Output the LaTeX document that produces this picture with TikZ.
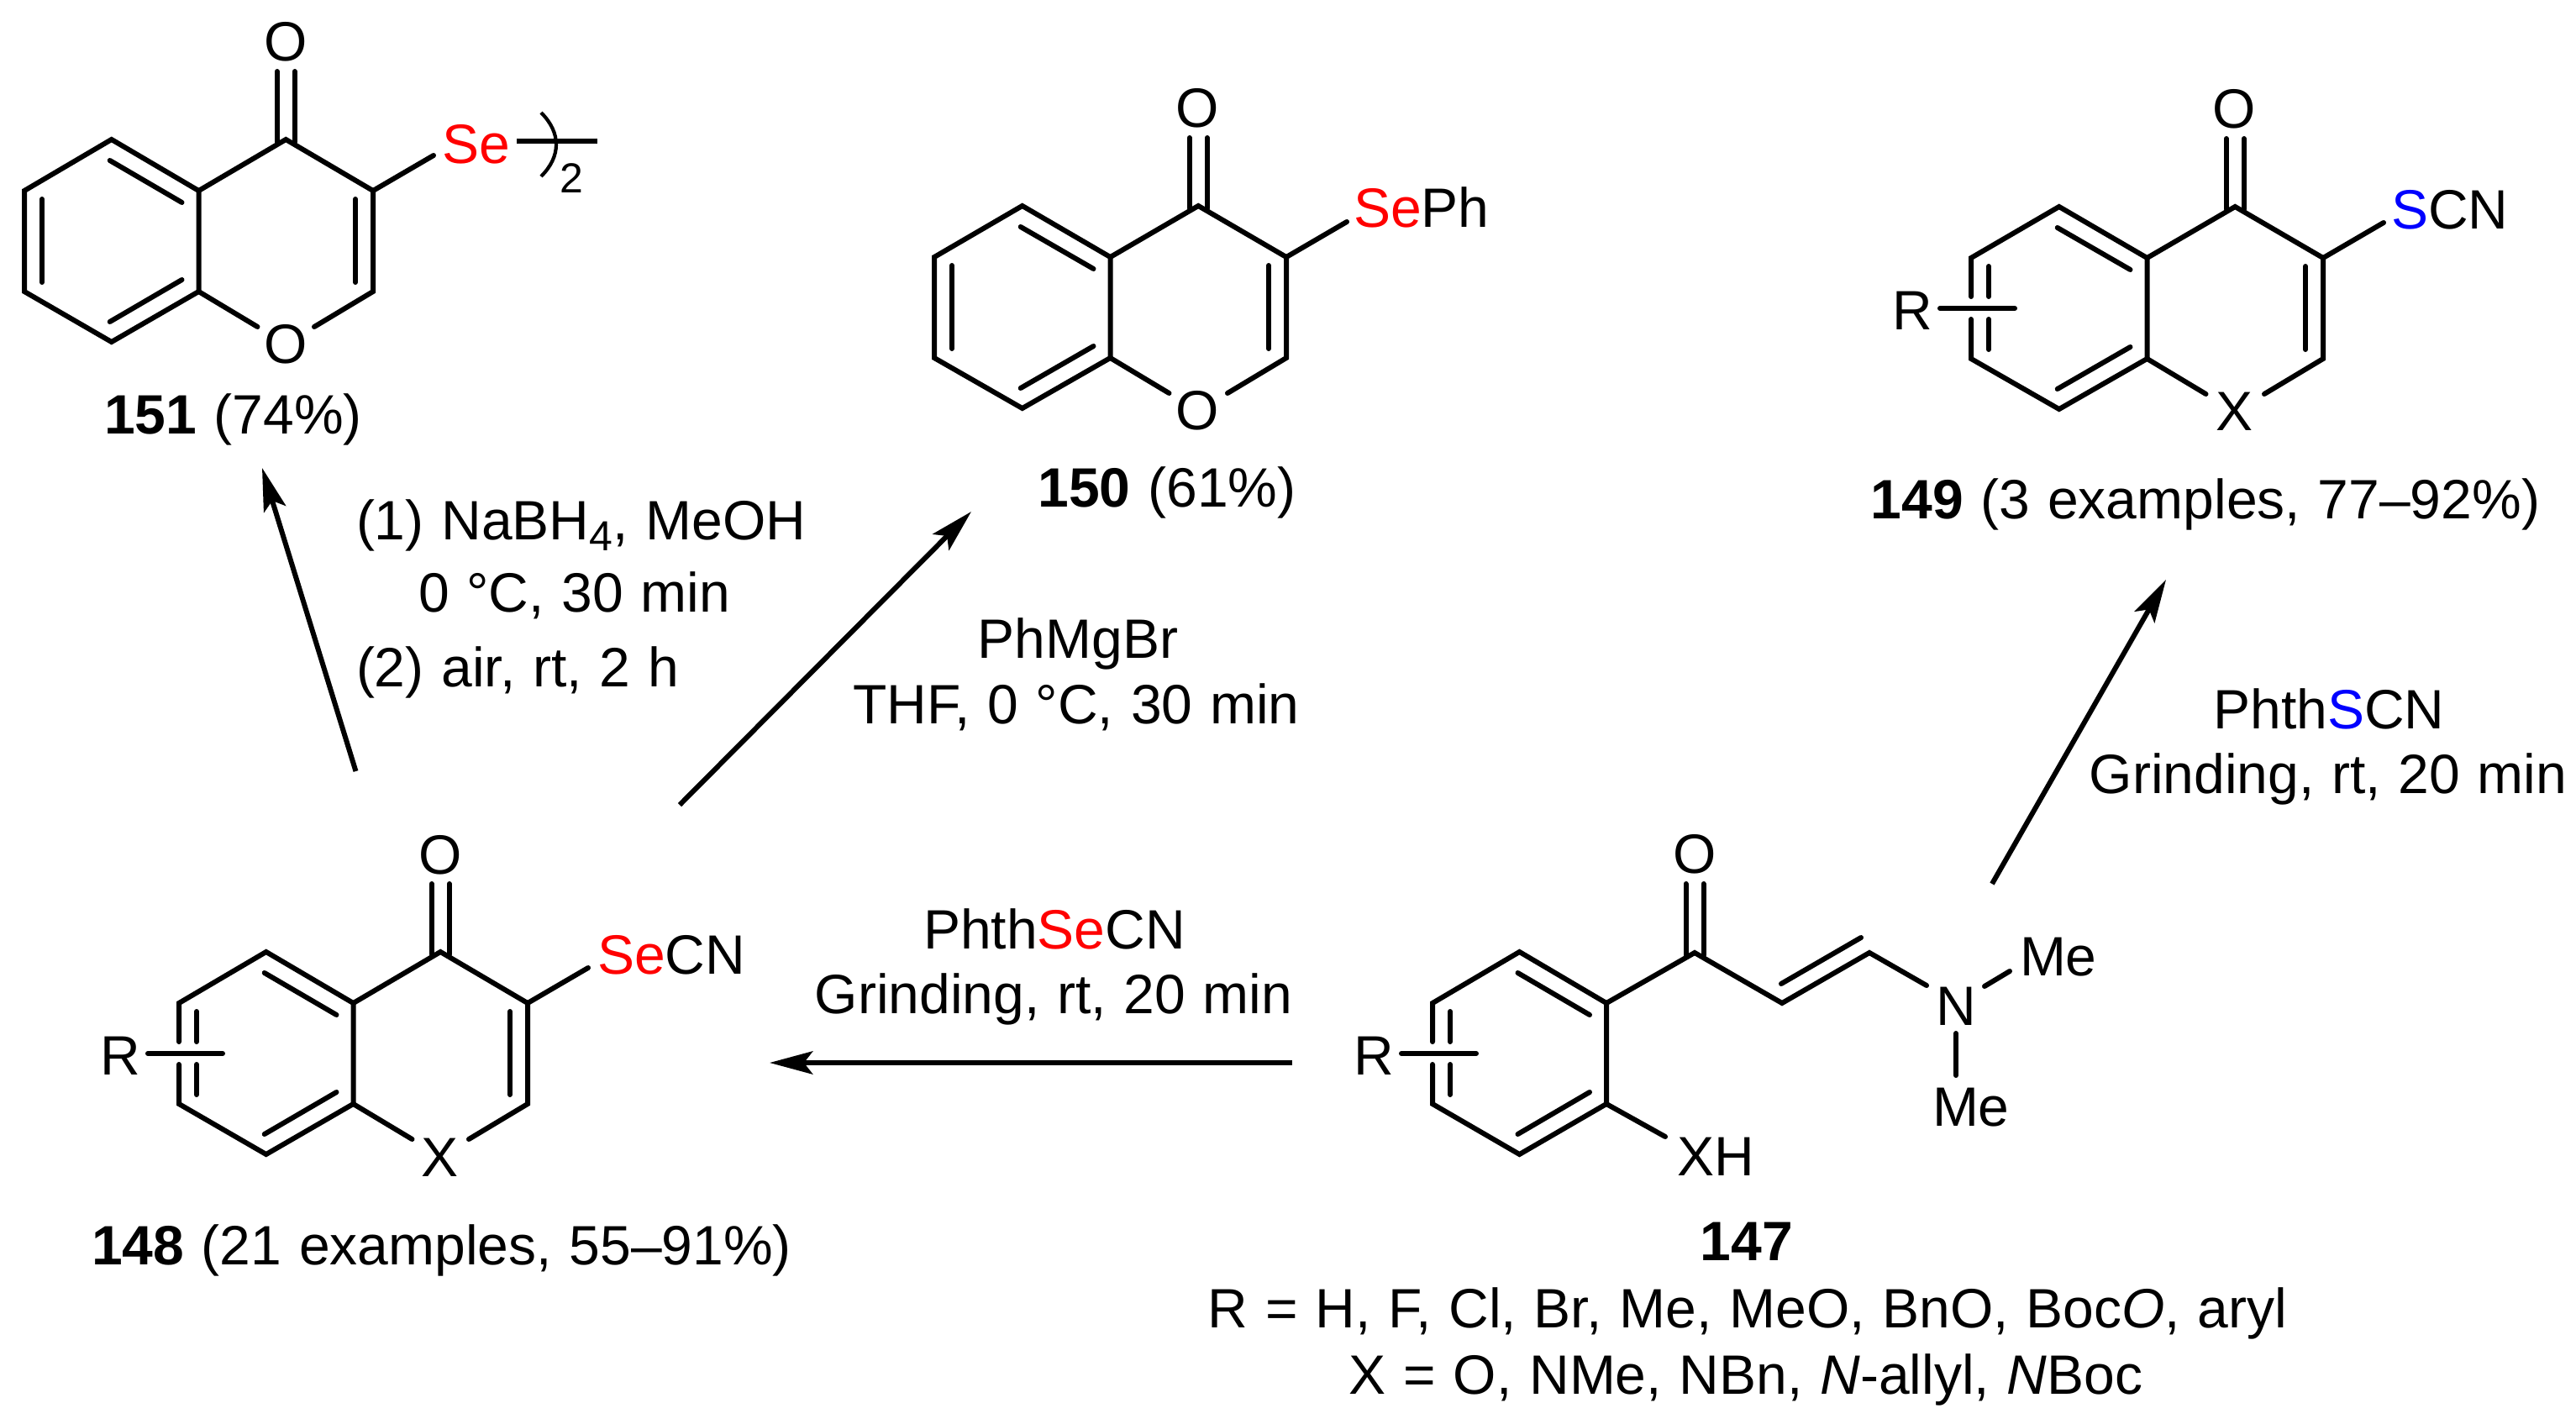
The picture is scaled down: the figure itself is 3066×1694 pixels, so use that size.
\documentclass[tikz,border=0pt]{standalone}
\usepackage{fontspec}
\setmainfont{Liberation Sans}
\usetikzlibrary{arrows.meta}
\definecolor{sered}{RGB}{255,0,0}
\definecolor{sblue}{RGB}{0,0,255}
\newcommand{\chemfont}{\fontsize{16.5}{20}\selectfont\spaceskip=5.2pt\relax}
\newcommand{\subfont}{\fontsize{12.5}{14}\selectfont}
\newcommand{\Se}{\textcolor{sered}{Se}}
\newcommand{\Sb}{\textcolor{sblue}{S}}
\tikzset{
  lbl/.style={inner sep=0pt,outer sep=0pt,anchor=base,font=\chemfont},
  lblw/.style={lbl,anchor=base west},
  sublbl/.style={inner sep=0pt,outer sep=0pt,anchor=base west,font=\subfont},
  bond/.style={line width=1.5pt,line join=miter,line cap=round,black},
  rxn/.style={line width=1.5pt,black,-{Stealth[length=12.8pt,width=6.8pt,inset=2.6pt]}}
}
\newcommand{\benzoinner}[1]{%
  \draw[bond] ({#1-2},25) -- ({2*#1-20},75);
  \draw[bond] ({#1-2},217) -- ({2*#1-20},167);
}
\newcommand{\benzoclosed}[1]{%
  \draw[bond] (0,61) -- (#1,0) -- ({2*#1},61) -- ({2*#1},181) -- (#1,241) -- (0,181) -- cycle;
  \benzoinner{#1}
  \draw[bond] (21,71) -- (21,170);
}
\newcommand{\benzoopen}[2]{%
  \draw[bond] (0,134) -- (0,181) -- (#1,241) -- ({2*#1},181) -- ({2*#1},61) -- (#1,0) -- (0,61) -- (0,107);
  \benzoinner{#1}
  \draw[bond] (21,71) -- (21,107);
  \draw[bond] (21,134) -- (21,170);
  \draw[bond] (-37,121) -- (52,121);
  \node[lbl] (R#2) at (-70,146) {R};
}
\newcommand{\pyranone}[1]{%
  \draw[bond] ({2*#1},61) -- ({3*#1},0) -- ({4*#1},61) -- ({4*#1},181) -- ({4*#1-70},223);
  \draw[bond] ({2*#1},181) -- ({2*#1+70},223);
  \draw[bond] ({4*#1-21},71) -- ({4*#1-21},170);
  \draw[bond] ({3*#1-10.5},-81) -- ({3*#1-10.5},3);
  \draw[bond] ({3*#1+10.5},-81) -- ({3*#1+10.5},3);
  \draw[bond] ({4*#1},61) -- ({4*#1+72},19);
}
\begin{document}
\begin{tikzpicture}[x=0.25pt,y=-0.25pt]
\useasboundingbox (0,0) rectangle (3066,1694);
\fill[white] (0,0) rectangle (3066,1694);

% 151
\begin{scope}[shift={(29,166)}]
  \benzoclosed{103.75}
  \pyranone{103.75}
\end{scope}
\node[lbl] (Otop151) at (340,72) {O};
\node[lbl] (Oring151) at (340,432) {O};
\node[lblw] (Se151) at (526,194) {\Se};
\draw[line width=1.05pt] (644,134) .. controls (668,158) and (668,186) .. (644,210);
\draw[line width=1.6pt] (615,168) -- (711,168);
\node[sublbl] (sub151) at (666,229) {2};
\node[lbl] (cap151) at (277.5,516) {\textbf{151} (74\%)};

% 150
\begin{scope}[shift={(1112,245)}]
  \benzoclosed{104.75}
  \pyranone{104.75}
\end{scope}
\node[lbl] (Otop150) at (1425,151) {O};
\node[lbl] (Oring150) at (1425,511) {O};
\node[lblw] (Se150) at (1611,270) {\Se Ph};
\node[lbl] (cap150) at (1389,603) {\textbf{150} (61\%)};

% 149
\begin{scope}[shift={(2346,246)}]
  \benzoopen{104.75}{149}
  \pyranone{104.75}
\end{scope}
\node[lbl] (Otop149) at (2659,152) {O};
\node[lbl] (X149) at (2659,512) {X};
\node[lblw] (S149) at (2846,272) {\Sb CN};
\node[lbl] (cap149) at (2625,617) {\textbf{149} (3 examples, 77--92\%)};

% 148
\begin{scope}[shift={(213,1133)}]
  \benzoopen{103.75}{148}
  \pyranone{103.75}
\end{scope}
\node[lbl] (Otop148) at (524,1040) {O};
\node[lbl] (X148) at (524,1400) {X};
\node[lblw] (Se148) at (711,1159) {\Se CN};
\node[lbl] (cap148) at (525.5,1505) {\textbf{148} (21 examples, 55--91\%)};

% 147
\begin{scope}[shift={(1705,1133)}]
  \benzoopen{103.5}{147}
\end{scope}
\draw[bond] (1912,1194) -- (2017,1134) -- (2121,1194) -- (2225,1134) -- (2293,1173);
\draw[bond] (2120,1171) -- (2215,1116);
\draw[bond] (2006.5,1052) -- (2006.5,1137);
\draw[bond] (2027.5,1052) -- (2027.5,1137);
\draw[bond] (1912,1314) -- (1982,1353);
\draw[bond] (2362,1174) -- (2392,1156);
\draw[bond] (2328,1230) -- (2328,1280);
\node[lbl] (O147) at (2017,1039) {O};
\node[lbl] (N147) at (2328,1220) {N};
\node[lblw] (Mea147) at (2404,1161) {Me};
\node[lblw] (Meb147) at (2300,1340) {Me};
\node[lblw] (XH147) at (1996,1399) {XH};
\node[lbl] (cap147) at (2079,1500) {\textbf{147}};
\node[lbl] (lineR) at (2080,1580) {R = H, F, Cl, Br, Me, MeO, BnO, Boc\textit{O}, aryl};
\node[lbl] (lineX) at (2078,1659) {X = O, NMe, NBn, \textit{N}-allyl, \textit{N}Boc};

% reagents
\node[lblw] (ra1) at (424,642) {(1) NaBH};
\node[sublbl] (ra1s) at (ra1.base east) [yshift=-3.4pt] {4};
\node[lblw] (ra1b) at (ra1s.base east) [yshift=3.4pt] {, MeOH};
\node[lblw] (ra2) at (498,728) {0 °C, 30 min};
\node[lblw] (ra3) at (424,817) {(2) air, rt, 2 h};
\node[lbl] (rb1) at (1283,783) {PhMgBr};
\node[lbl] (rb2) at (1281,861) {THF, 0 °C, 30 min};
\node[lbl] (rc1) at (1255,1129) {Phth\Se CN};
\node[lbl] (rc2) at (1254,1206) {Grinding, rt, 20 min};
\node[lbl] (rd1) at (2772,867) {Phth\Sb CN};
\node[lbl] (rd2) at (2771,944) {Grinding, rt, 20 min};

% arrows
\coordinate (a1s) at (423.5,918); \coordinate (a1e) at (312,557);
\coordinate (a2s) at (809,958);   \coordinate (a2e) at (1156,609);
\coordinate (a3s) at (1538,1265); \coordinate (a3e) at (916,1265);
\coordinate (a4s) at (2371,1052); \coordinate (a4e) at (2578,690);
\draw[rxn] (a1s) -- (a1e);
\draw[rxn] (a2s) -- (a2e);
\draw[rxn] (a3s) -- (a3e);
\draw[rxn] (a4s) -- (a4e);
\end{tikzpicture}
\end{document}
